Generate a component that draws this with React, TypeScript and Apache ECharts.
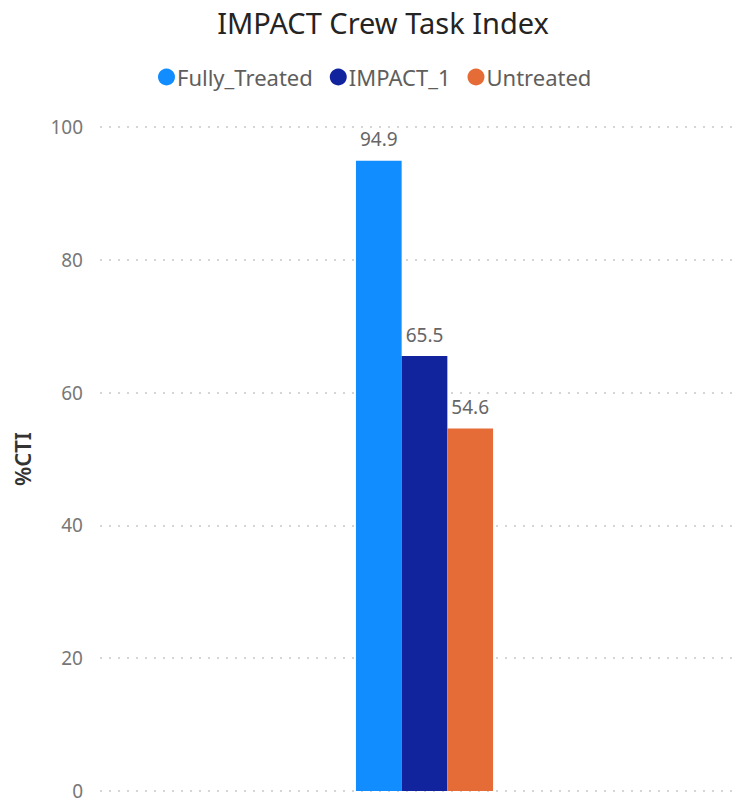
import React, { useEffect, useRef } from "react";
import * as echarts from "echarts";

const categories = ["IMPACT"];
const seriesNames = ["Fully_Treated", "IMPACT_1", "Untreated"];
const fullyTreated = [94.9];
const impact1 = [65.5];
const untreated = [54.6];
const colors = ["#118DFF", "#12239E", "#E66C37"];

export default function App() {
  const ref = useRef<HTMLDivElement>(null);
  useEffect(() => {
    const chart = echarts.init(ref.current!, null, { renderer: "svg" });
    const values = [fullyTreated, impact1, untreated];
    chart.setOption({
      animation: false,
      title: {
        text: "IMPACT Crew Task Index",
        left: 378,
        textAlign: "center",
        top: 3,
        textStyle: { fontFamily: "Noto Sans", fontSize: 29, fontWeight: "normal", color: "#252423" },
      },
      legend: {
        top: 61,
        left: 153,
        itemGap: 17,
        itemWidth: 17,
        itemHeight: 17,
        icon: "circle",
        textStyle: { fontFamily: "Noto Sans", fontSize: 22, color: "#605E5C", padding: [0, 0, 0, -3] },
        data: seriesNames,
      },
      grid: [
        { left: 100, right: 6, top: 127, bottom: 12 },
        { left: 111, right: 6, top: 127, bottom: 12 },
      ],
      xAxis: [
        { type: "category", gridIndex: 0, data: categories, show: false },
        { type: "category", gridIndex: 1, data: categories, show: false },
      ],
      yAxis: [
        {
          type: "value",
          gridIndex: 0,
          min: 0,
          max: 100,
          interval: 20,
          name: "%CTI",
          nameLocation: "middle",
          nameGap: 67,
          nameTextStyle: { fontFamily: "Noto Sans", fontSize: 22, color: "#333333", fontWeight: 600 },
          axisLine: { show: false },
          axisTick: { show: false },
          axisLabel: { fontFamily: "Noto Sans", fontSize: 19, color: "#777777", margin: 17 },
          splitLine: { lineStyle: { type: [2, 7], color: "#C8C8C8", width: 1.5 } },
        },
        { type: "value", gridIndex: 1, min: 0, max: 100, show: false },
      ],
      series: seriesNames.map((name, i) => ({
        name,
        type: "bar",
        xAxisIndex: 1,
        yAxisIndex: 1,
        data: values[i],
        barWidth: 45.7,
        barGap: "0%",
        itemStyle: { color: colors[i] },
        label: {
          show: true,
          position: "top",
          distance: 12,
          fontFamily: "Noto Sans",
          fontSize: 19,
          color: "#666666",
        },
      })),
    });
    return () => chart.dispose();
  }, []);
  return <div ref={ref} style={{ width: 744, height: 803, position: "absolute", left: 0, top: 0, background: "#fff" }} />;
}
